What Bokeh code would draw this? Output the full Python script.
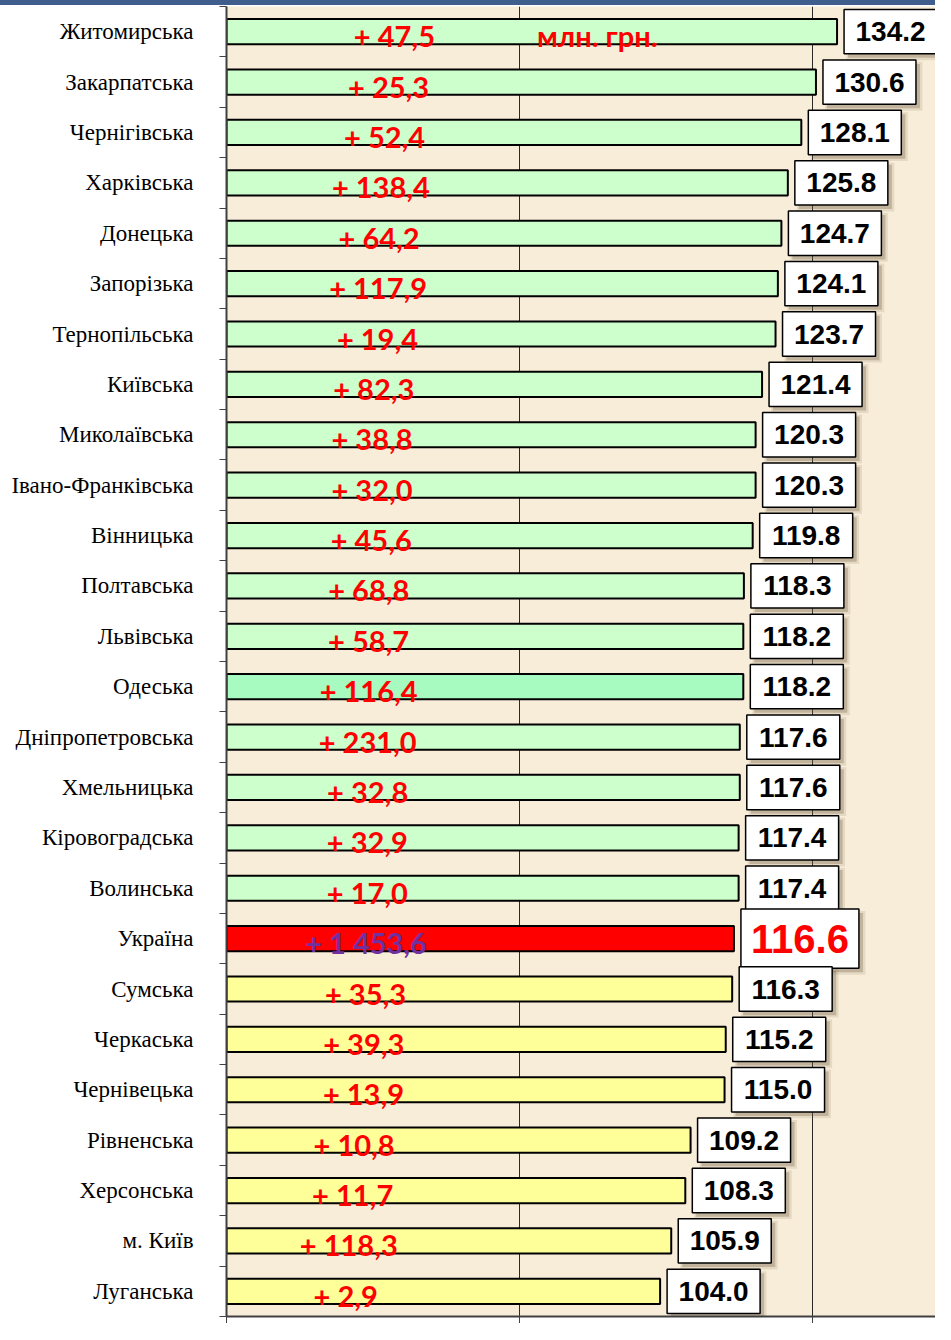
from bokeh.plotting import figure
from bokeh.models import ColumnDataSource, FixedTicker, Range1d, Div
from bokeh.layouts import column
from bokeh.core.properties import value
from bokeh.embed import file_html
from bokeh.resources import INLINE

regions = ["Житомирська", "Закарпатська", "Чернігівська", "Харківська", "Донецька",
           "Запорізька", "Тернопільська", "Київська", "Миколаївська", "Івано-Франківська",
           "Вінницька", "Полтавська", "Львівська", "Одеська", "Дніпропетровська",
           "Хмельницька", "Кіровоградська", "Волинська", "Україна", "Сумська",
           "Черкаська", "Чернівецька", "Рівненська", "Херсонська", "м. Київ", "Луганська"]
index_pct = [134.2, 130.6, 128.1, 125.8, 124.7, 124.1, 123.7, 121.4, 120.3, 120.3,
             119.8, 118.3, 118.2, 118.2, 117.6, 117.6, 117.4, 117.4, 116.6, 116.3,
             115.2, 115.0, 109.2, 108.3, 105.9, 104.0]
growth = ["+ 47,5", "+ 25,3", "+ 52,4", "+ 138,4", "+ 64,2", "+ 117,9", "+ 19,4",
          "+ 82,3", "+ 38,8", "+ 32,0", "+ 45,6", "+ 68,8", "+ 58,7", "+ 116,4",
          "+ 231,0", "+ 32,8", "+ 32,9", "+ 17,0", "+ 1 453,6", "+ 35,3", "+ 39,3",
          "+ 13,9", "+ 10,8", "+ 11,7", "+ 118,3", "+ 2,9"]
x_ticks = [30, 80, 130]
unit_label = "млн. грн."
unit_label_x = 83
country = "Україна"
highlight = "Одеська"

X0, X1 = 30, 151
W, H = 935, 1318
LEFT = 226
px = (W - LEFT) / (X1 - X0)          # pixels per x unit

n = len(regions)
ys = [n - 1 - i for i in range(n)]
uk = regions.index(country)
uk_val = index_pct[uk]

colors, gcolors = [], []
for r, v in zip(regions, index_pct):
    if r == country:
        colors.append("#ff0000"); gcolors.append("#7030a0")
    elif r == highlight:
        colors.append("#a8fbc0"); gcolors.append("#ff0000")
    elif v > uk_val:
        colors.append("#ccffcc"); gcolors.append("#ff0000")
    else:
        colors.append("#ffff99"); gcolors.append("#ff0000")

gap = 7 / px
bw, bh = 93 / px, 0.44
bw_uk, bh_uk = 118 / px, 0.59
bl = [v + gap for v in index_pct]
br = [l + (bw_uk if r == country else bw) for l, r in zip(bl, regions)]
bt = [y + (bh_uk if r == country else bh) for y, r in zip(ys, regions)]
bb = [y - (bh_uk if r == country else bh) for y, r in zip(ys, regions)]
sx = 4 / px
sy = 4 / 50.4

src = ColumnDataSource(dict(
    y=ys, v=index_pct, color=colors, g=growth, gcolor=gcolors,
    gx=[X0 + 0.275 * (v - X0) for v in index_pct],
    gy=[y - 0.08 for y in ys],
    bl=bl, br=br, bt=bt, bb=bb,
    sl=[a + sx for a in bl], sr=[a + sx for a in br],
    st=[a - sy for a in bt], sb=[a - sy for a in bb],
    sl2=[a + sx * 0.5 for a in bl], sr2=[a + sx * 1.6 for a in br],
    st2=[a - sy * 0.5 for a in bt], sb2=[a - sy * 1.6 for a in bb],
    cx=[(a + b) / 2 for a, b in zip(bl, br)],
    lab=[f"{v:.1f}" for v in index_pct],
    tsize=["40px" if r == country else "28px" for r in regions],
    tcol=["#ff0000" if r == country else "black" for r in regions],
))

p = figure(width=W, height=H, x_range=Range1d(X0, X1), y_range=Range1d(-0.5, n - 0.5),
           output_backend="svg", toolbar_location=None,
           min_border_left=LEFT, min_border_top=1, min_border_right=0, min_border_bottom=7)
p.background_fill_color = "#f8edd8"
p.border_fill_color = "white"
p.outline_line_color = None

# x axis: tick marks only (as minor ticks, so no labels)
p.xaxis.ticker = FixedTicker(ticks=[], minor_ticks=x_ticks)
p.xaxis.major_tick_out = 0
p.xaxis.major_tick_in = 0
p.xaxis.minor_tick_out = 7
p.xaxis.minor_tick_in = 0
p.xaxis.minor_tick_line_color = "#404040"
p.xaxis.major_label_standoff = 0
p.xaxis.axis_line_color = "#404040"
p.xaxis.axis_line_width = 2

p.xgrid.ticker = FixedTicker(ticks=x_ticks[1:])
p.xgrid.grid_line_color = "#2a2a2a"
p.xgrid.grid_line_width = 1
p.ygrid.visible = False

# y axis
p.yaxis.ticker = FixedTicker(ticks=ys, minor_ticks=[k - 0.5 for k in range(n + 1)])
p.yaxis.major_label_overrides = {y: r for y, r in zip(ys, regions)}
p.yaxis.major_tick_out = 0
p.yaxis.major_tick_in = 0
p.yaxis.minor_tick_out = 7
p.yaxis.minor_tick_in = 0
p.yaxis.minor_tick_line_color = "#404040"
p.yaxis.axis_line_color = "#404040"
p.yaxis.axis_line_width = 2
p.yaxis.major_label_text_font = "Liberation Serif"
p.yaxis.major_label_text_font_size = "23px"
p.yaxis.major_label_text_color = "black"
p.yaxis.major_label_standoff = 26

p.hbar(y="y", left=X0, right="v", height=0.5, fill_color="color",
       line_color="black", line_width=2, source=src)

p.text(x="gx", y="gy", text="g", text_color="gcolor", text_font=value("Lato"),
       text_font_style="bold", text_font_size="29px", text_align="center",
       text_baseline="middle", source=src)
p.text(x=[unit_label_x], y=[ys[0] - 0.08], text=[unit_label], text_color="#ff0000",
       text_font=value("Lato"), text_font_style="bold", text_font_size="29px",
       text_align="left", text_baseline="middle")

# value boxes with soft shadow
p.quad(left="sl2", right="sr2", top="st2", bottom="sb2", fill_color="#7a6a50",
       fill_alpha=0.15, line_color=None, source=src)
p.quad(left="sl", right="sr", top="st", bottom="sb", fill_color="#6a5a40",
       fill_alpha=0.3, line_color=None, source=src)
p.quad(left="bl", right="br", top="bt", bottom="bb", fill_color="white",
       line_color="black", line_width=1.5, source=src)
p.text(x="cx", y="y", text="lab", text_color="tcol", text_font=value("Liberation Sans"),
       text_font_style="bold", text_font_size="tsize", text_align="center",
       text_baseline="middle", source=src)

band = Div(width=W, height=5, margin=0, styles={"background-color": "#3f5e8e"})
layout = column(band, p, spacing=0)

open("out.html", "w").write(file_html(layout, INLINE))
